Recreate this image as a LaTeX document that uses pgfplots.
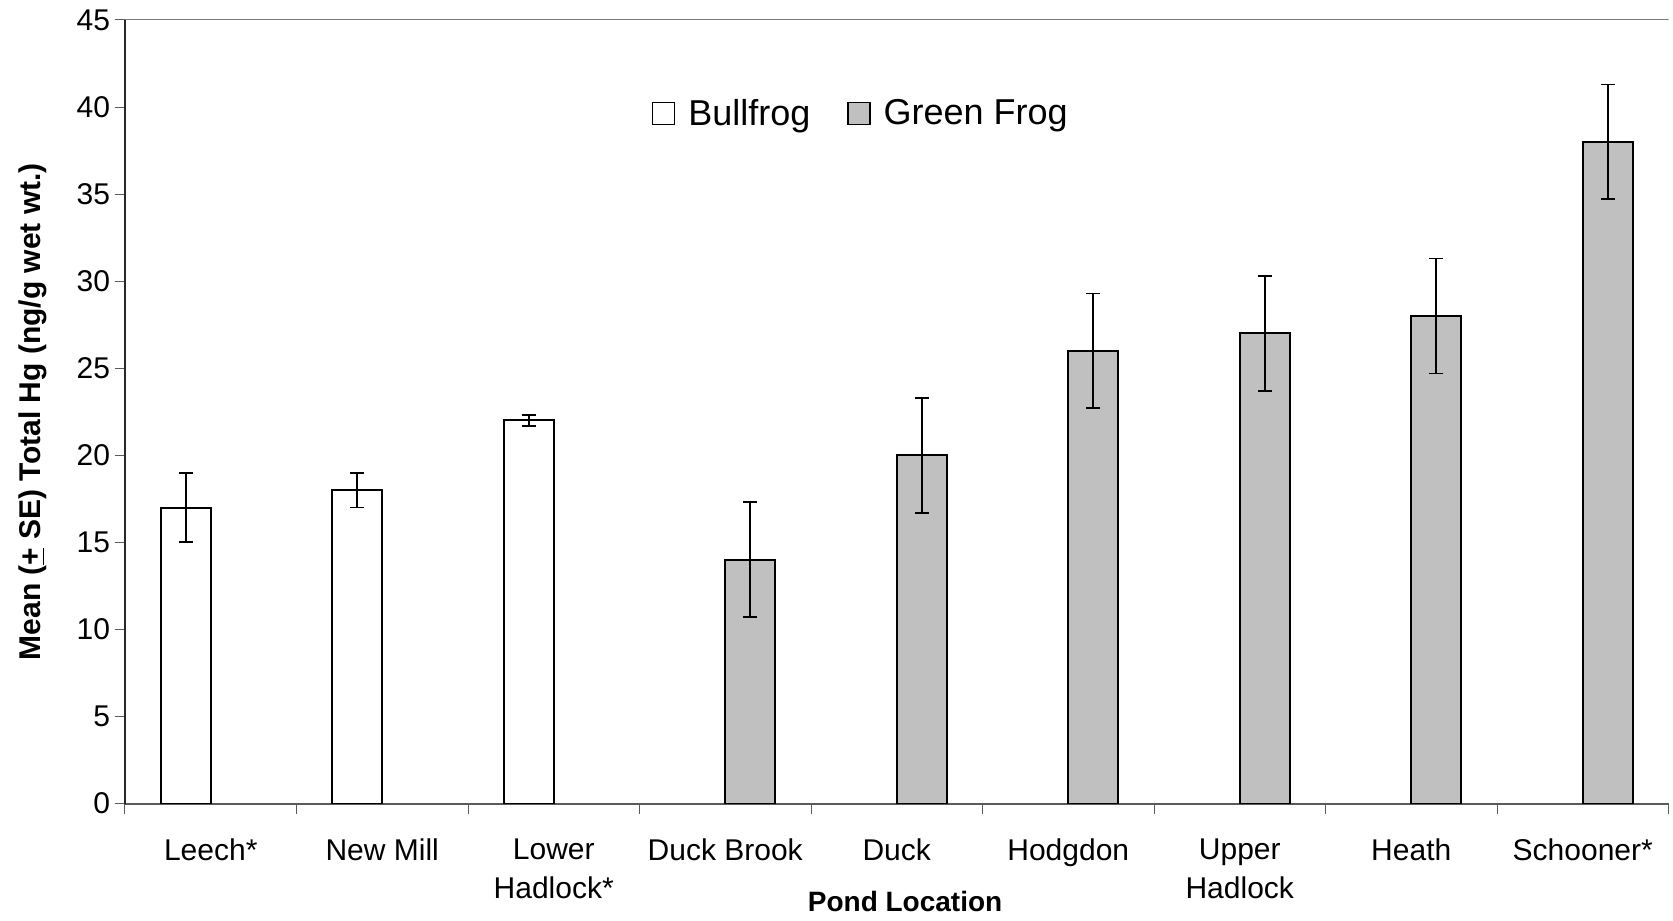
\documentclass[border=0pt]{standalone}
\usepackage{pgfplots}
\pgfplotsset{compat=1.18}
\usepackage{pgfplotstable}
\usepackage{fontspec}
\setmainfont{Liberation Sans}

\definecolor{greenfrog}{RGB}{192,192,192}
\definecolor{axisdark}{RGB}{40,40,40}
\definecolor{axisgray}{RGB}{90,90,90}
\definecolor{framegray}{RGB}{120,120,120}

% Mean total Hg per pond: x index, mean, standard error
\pgfplotstableread{
x  y   e
0  17  2.0
1  18  1.0
2  22  0.3
}\bullfrog
\pgfplotstableread{
x  y   e
3  14  3.3
4  20  3.3
5  26  3.3
6  27  3.3
7  28  3.3
8  38  3.3
}\greenfrog

\begin{document}
\begin{tikzpicture}
\path[use as bounding box] (-62.5pt,-58.25pt) rectangle (774pt,401.75pt);
\begin{axis}[
  scale only axis,
  width=771.75pt, height=391.75pt,
  xmin=-0.5, xmax=8.5,
  ymin=0, ymax=45,
  ytick={0,5,...,45},
  xtick={-0.5,0.5,...,8.5},
  x tick label as interval,
  xticklabels={Leech*, New Mill, {Lower\\Hadlock*}, Duck Brook, Duck, Hodgdon, {Upper\\Hadlock}, Heath, Schooner*},
  axis lines*=left,
  axis line style={-},
  x axis line style={axisgray, line width=1pt},
  y axis line style={axisdark, line width=0.75pt},
  tick align=outside,
  major tick length=5pt,
  tick style={axisgray, line width=0.5pt},
  /pgf/number format/assume math mode=true,
  yticklabel style={font=\fontsize{15}{18}\selectfont, anchor=east, inner sep=0pt, xshift=-2.3pt},
  xticklabel style={font=\fontsize{15}{19.5}\selectfont, align=center, anchor=north, inner sep=0pt, yshift=-12.35pt},
  xlabel={\textbf{Pond Location}},
  xlabel style={font=\fontsize{14}{16}\selectfont, at={(axis description cs:0.5054,0)}, anchor=base, inner sep=0pt, yshift=-54.1pt},
  ylabel={\textbf{Mean (\underline{+} SE) Total Hg (ng/g wet wt.)}},
  ylabel style={font=\fontsize{15}{18}\selectfont, at={(axis description cs:-0.0597,0.5)}, anchor=center, inner sep=0pt},
  ybar,
  bar width=0.2915,
  legend columns=2,
  legend style={at={(0.3414,0.8804)}, anchor=west, draw=none, fill=none,
    inner sep=0pt, outer sep=0pt, font=\fontsize{18}{21}\selectfont,
    nodes={inner sep=0pt},
    /tikz/every odd column/.append style={column sep=6.5pt},
    /tikz/every even column/.append style={column sep=18.3pt}},
  error bars/y dir=both,
  error bars/y explicit,
  error bars/error bar style={black, line width=0.85pt},
  error bars/error mark options={rotate=90, black, line width=0.85pt, mark size=3.5pt},
]
\addplot+[bar shift=-0.14575, draw=black, fill=white, line width=1pt,
  legend image code/.code={\draw[black, fill=white, line width=0.75pt] (0pt,-5.3pt) rectangle (11pt,5.7pt);}]
  table[x=x, y=y, y error=e] {\bullfrog};
\addlegendentry{Bullfrog}
\addplot+[bar shift=0.14575, draw=black, fill=greenfrog, line width=1pt,
  legend image code/.code={\draw[black, fill=greenfrog, line width=0.75pt] (0pt,-5.3pt) rectangle (11pt,5.7pt);}]
  table[x=x, y=y, y error=e] {\greenfrog};
\addlegendentry{Green Frog}
\draw[framegray, line width=0.5pt] (rel axis cs:0,1) -- (rel axis cs:1,1);
\end{axis}
\end{tikzpicture}
\end{document}
